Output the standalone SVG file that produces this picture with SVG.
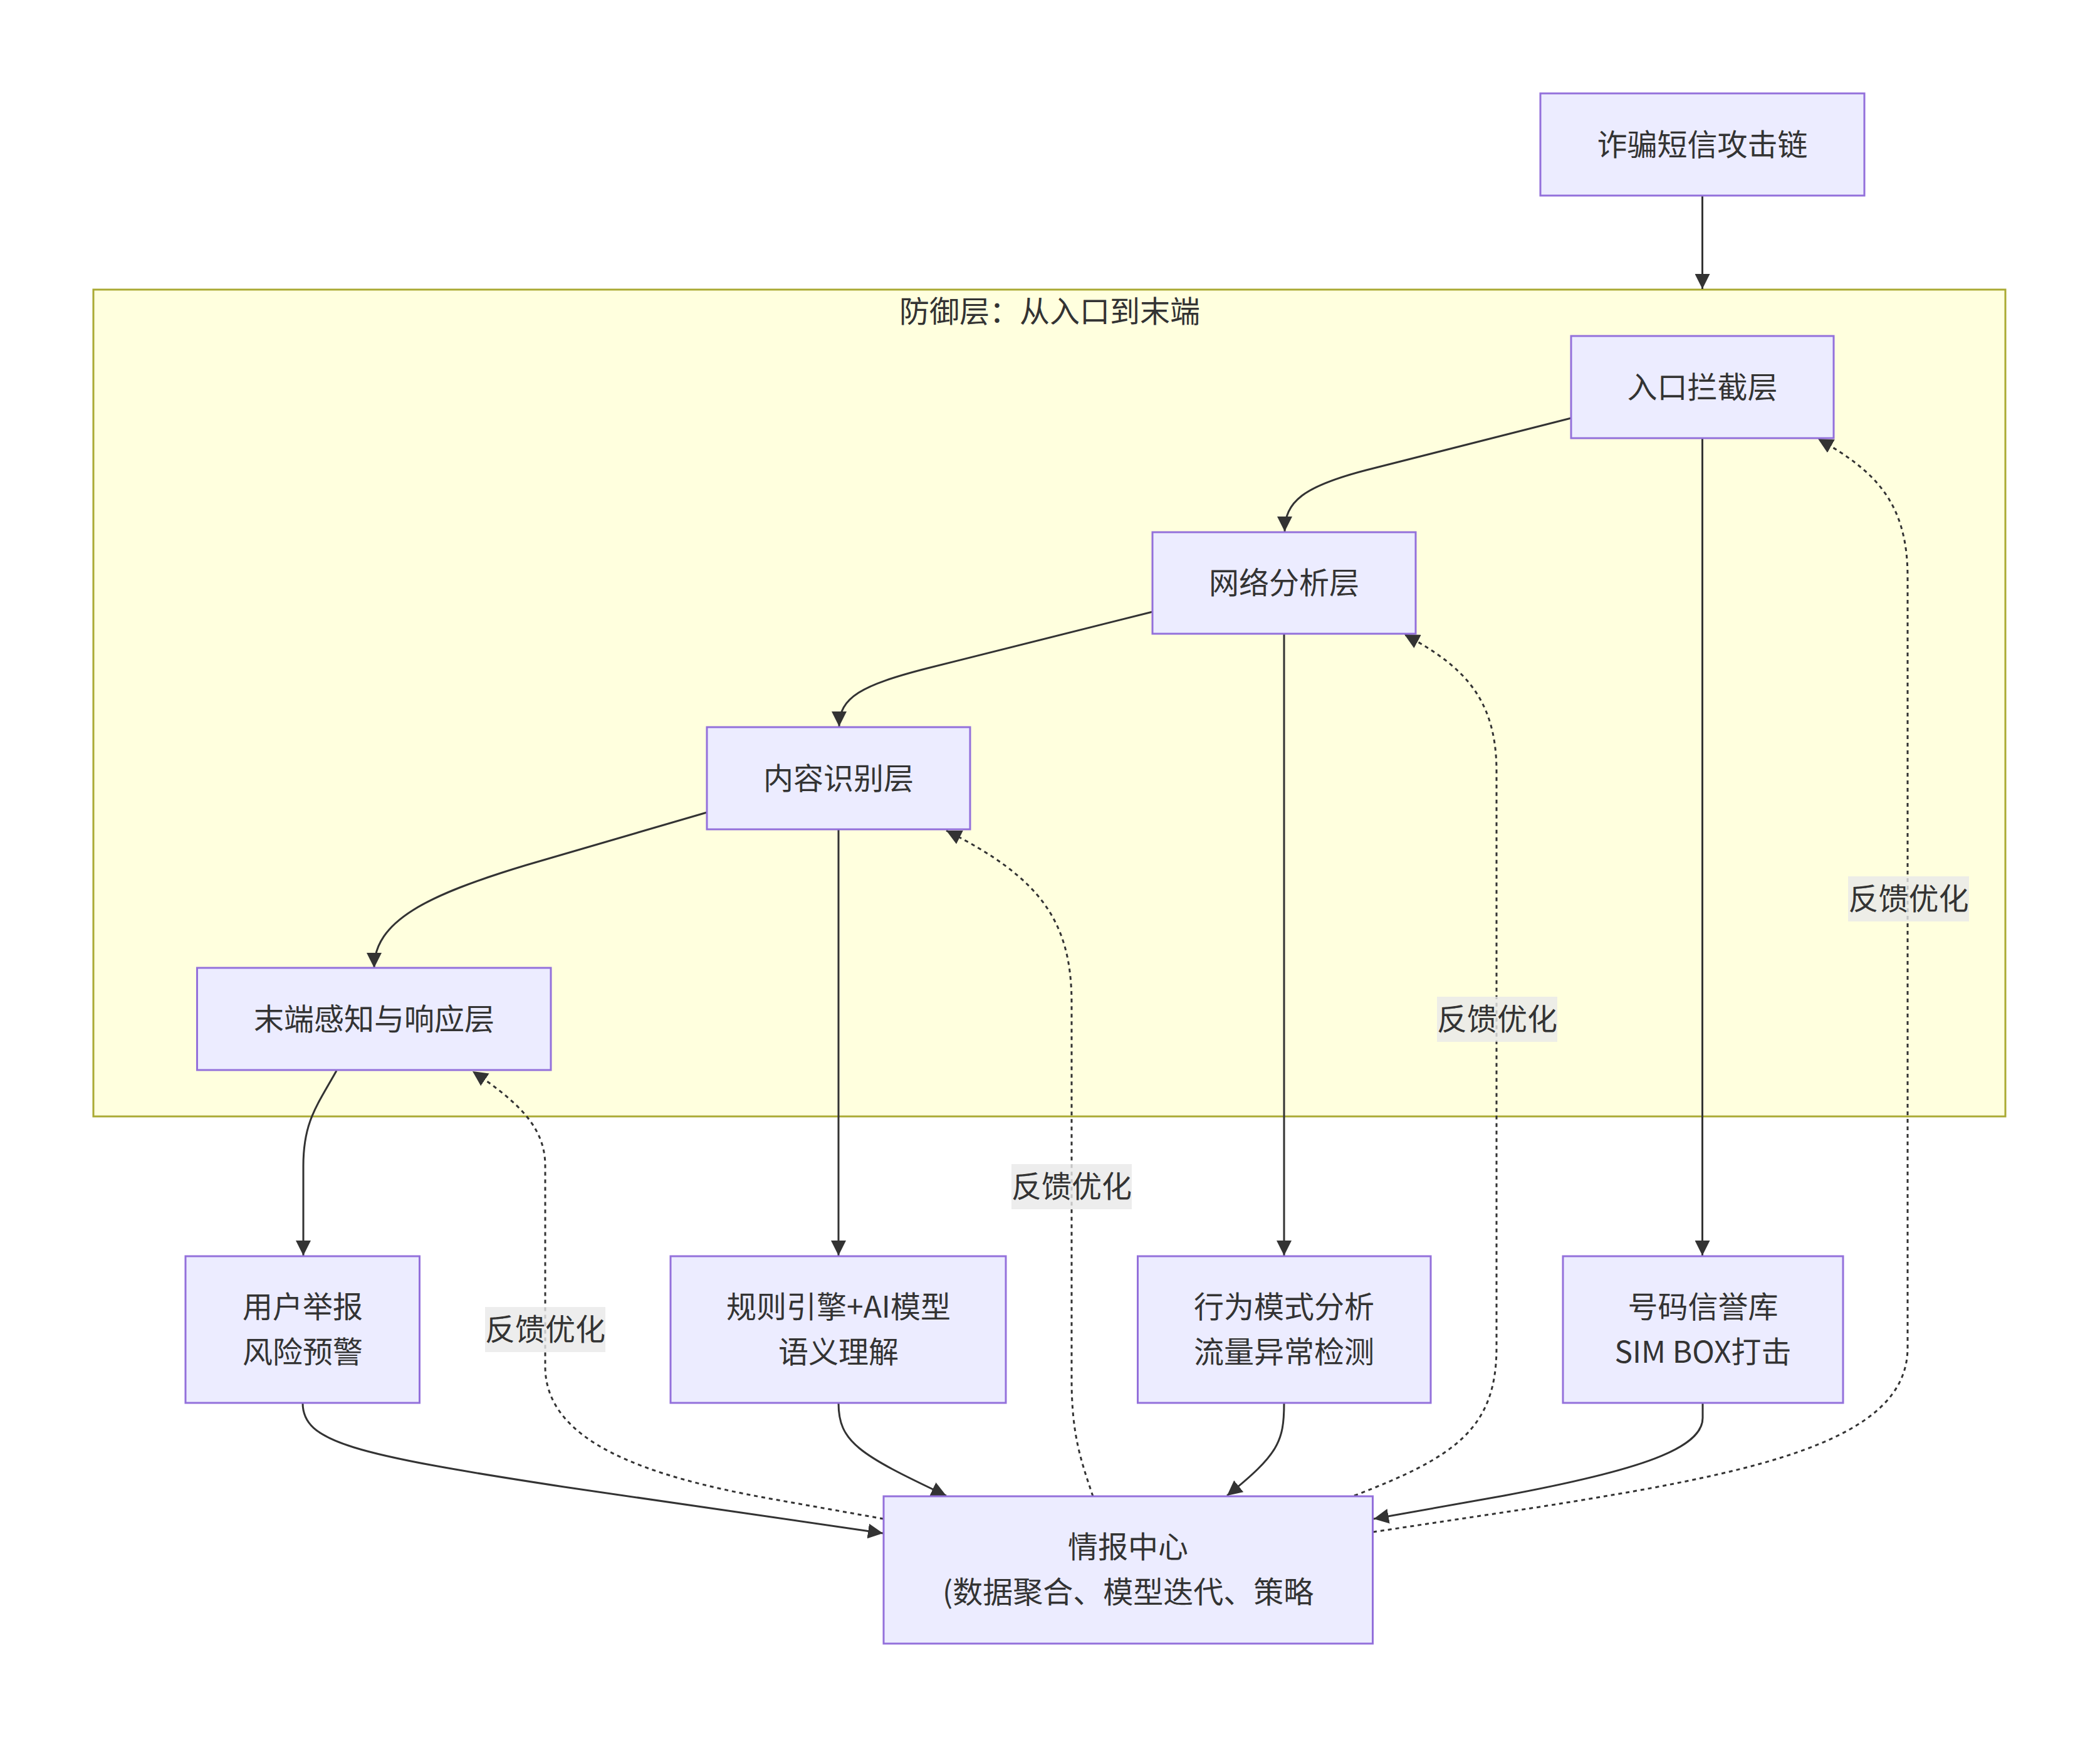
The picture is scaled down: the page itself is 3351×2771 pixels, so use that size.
<svg xmlns="http://www.w3.org/2000/svg" width="3351" height="2771" viewBox="0 0 3351 2771">
<style>
.t{font-family:"Noto Sans CJK SC","Noto Sans",sans-serif;font-size:48px;fill:#333333;text-anchor:middle}
.n{fill:#ECECFF;stroke:#9370DB;stroke-width:3}
.e{fill:none;stroke:#333333;stroke-width:3}
.d{fill:none;stroke:#333333;stroke-width:3;stroke-dasharray:6 6}
.lb{fill:#e8e8e8;opacity:0.8}
</style>
<defs>
<marker id="arr" viewBox="0 0 10 10" refX="10" refY="5" markerWidth="8" markerHeight="8" orient="auto">
<path d="M0,0 L10,5 L0,10 z" fill="#333333" stroke="none"/>
</marker>
</defs>
<rect width="3351" height="2771" fill="#ffffff"/>
<g id="cluster-defense">
<rect x="149" y="462" width="3051" height="1319" fill="#ffffde" stroke="#aaaa33" stroke-width="3"/>
<text class="t" x="1675" y="514">防御层：从入口到末端</text>
</g>
<g id="edges">
<path class="e" d="M2716.5,312 L2716.5,461" marker-end="url(#arr)"/>
<path class="e" d="M2507,667 L2180,750 C2080,776 2050,800 2050,848" marker-end="url(#arr)"/>
<path class="e" d="M2716.5,699 L2716.5,2003" marker-end="url(#arr)"/>
<path class="e" d="M1839,976 L1480,1066 C1375,1093 1339,1112 1339,1159" marker-end="url(#arr)"/>
<path class="e" d="M2049,1011 L2049,2003" marker-end="url(#arr)"/>
<path class="e" d="M1128,1296 L840,1380 C680,1428 597,1470 597,1544" marker-end="url(#arr)"/>
<path class="e" d="M1338,1323 L1338,2003" marker-end="url(#arr)"/>
<path class="e" d="M537,1708 C505,1765 484,1790 484,1860 L484,2003" marker-end="url(#arr)"/>
<path class="e" d="M483,2238 C483,2300 560,2320 900,2372 L1409,2446" marker-end="url(#arr)"/>
<path class="e" d="M1338,2238 C1338,2300 1370,2320 1510,2386" marker-end="url(#arr)"/>
<path class="e" d="M2049,2238 C2049,2300 2040,2320 1958,2386" marker-end="url(#arr)"/>
<path class="e" d="M2717,2238 L2717,2262 C2717,2310 2620,2345 2400,2386 L2192,2423" marker-end="url(#arr)"/>
<path class="d" d="M1410,2423 L1230,2391 C1030,2355 870,2300 870,2180 L870,1860 C870,1800 830,1760 754,1709" marker-end="url(#arr)"/>
<path class="d" d="M1744,2387 C1725,2330 1710,2290 1710,2200 L1710,1600 C1710,1470 1660,1400 1510,1325" marker-end="url(#arr)"/>
<path class="d" d="M2161,2386 C2320,2325 2388,2280 2388,2150 L2388,1230 C2388,1110 2330,1060 2241,1012" marker-end="url(#arr)"/>
<path class="d" d="M2191,2444 L2450,2405 C2800,2350 3044,2300 3044,2150 L3044,920 C3044,800 2990,750 2901,700" marker-end="url(#arr)"/>
</g>
<g id="edge-labels">
<g id="label-1"><rect class="lb" x="774" y="2085" width="192" height="72"/><text class="t" x="870" y="2138">反馈优化</text></g>
<g id="label-2"><rect class="lb" x="1614" y="1857" width="192" height="72"/><text class="t" x="1710" y="1910">反馈优化</text></g>
<g id="label-3"><rect class="lb" x="2293" y="1590" width="192" height="72"/><text class="t" x="2389" y="1643">反馈优化</text></g>
<g id="label-4"><rect class="lb" x="2949" y="1398" width="193" height="72"/><text class="t" x="3045.5" y="1451">反馈优化</text></g>
</g>
<g id="node-attack">
<rect class="n" x="2458" y="149" width="517" height="163"/>
<text class="t" x="2716.5" y="248">诈骗短信攻击链</text>
</g>
<g id="node-entry">
<rect class="n" x="2507" y="536" width="419" height="163"/>
<text class="t" x="2716.5" y="635">入口拦截层</text>
</g>
<g id="node-network">
<rect class="n" x="1839" y="849" width="420" height="162"/>
<text class="t" x="2049" y="947">网络分析层</text>
</g>
<g id="node-content">
<rect class="n" x="1128" y="1160" width="420" height="163"/>
<text class="t" x="1338" y="1259">内容识别层</text>
</g>
<g id="node-terminal">
<rect class="n" x="314.5" y="1544" width="564.5" height="163"/>
<text class="t" x="597" y="1643">末端感知与响应层</text>
</g>
<g id="node-user">
<rect class="n" x="296" y="2004" width="373.5" height="234"/>
<text class="t" x="483" y="2102">用户举报</text>
<text class="t" x="483" y="2174">风险预警</text>
</g>
<g id="node-rules">
<rect class="n" x="1070" y="2004" width="535" height="234"/>
<text class="t" x="1338" y="2102">规则引擎+AI模型</text>
<text class="t" x="1338" y="2174">语义理解</text>
</g>
<g id="node-behavior">
<rect class="n" x="1815.5" y="2004" width="467.5" height="234"/>
<text class="t" x="2049" y="2102">行为模式分析</text>
<text class="t" x="2049" y="2174">流量异常检测</text>
</g>
<g id="node-number">
<rect class="n" x="2494" y="2004" width="447" height="234"/>
<text class="t" x="2717.5" y="2102">号码信誉库</text>
<text class="t" x="2717.5" y="2174">SIM BOX打击</text>
</g>
<g id="node-intel">
<rect class="n" x="1410" y="2387" width="780.5" height="235"/>
<text class="t" x="1800" y="2485">情报中心</text>
<text class="t" x="1504" y="2557" style="text-anchor:start">(数据聚合、模型迭代、策略</text>
</g>
</svg>
